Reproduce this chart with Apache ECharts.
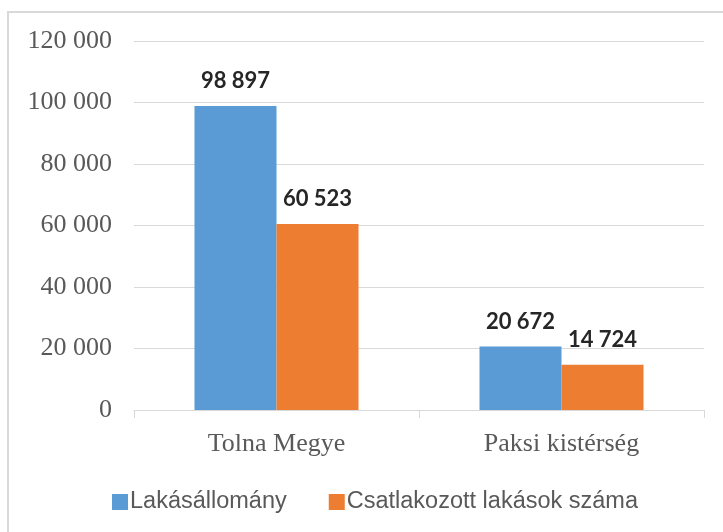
<!DOCTYPE html>
<html>
<head>
<meta charset="utf-8">
<script src="https://cdn.jsdelivr.net/npm/echarts@6/dist/echarts.min.js"></script>
<style>
html,body{margin:0;padding:0;background:#fff;}
#chart{width:723px;height:532px;}
</style>
</head>
<body>
<div id="chart"></div>
<script>
var categories = ['Tolna Megye', 'Paksi kistérség'];
var seriesNames = ['Lakásállomány', 'Csatlakozott lakások száma'];
var lakasallomany = [98897, 20672];
var csatlakozott = [60523, 14724];
var yMin = 0, yMax = 120000, yStep = 20000;

function fmt(v) {
  return String(v).replace(/\B(?=(\d{3})+(?!\d))/g, ' ');
}

var chart = echarts.init(document.getElementById('chart'), null, {renderer: 'canvas'});
var labelStyle = {
  show: true,
  position: 'top',
  distance: 14,
  fontFamily: 'Lato',
  fontWeight: 'bold',
  fontSize: 22,
  color: '#262626',
  formatter: function (p) { return fmt(p.value); }
};
chart.setOption({
  animation: false,
  backgroundColor: '#ffffff',
  graphic: [{
    type: 'rect',
    shape: {x: 8, y: 12, width: 730, height: 540},
    style: {fill: 'none', stroke: '#d9d9d9', lineWidth: 2},
    silent: true
  }],
  grid: {left: 134, right: 19, top: 41, bottom: 122, containLabel: false},
  legend: {
    left: 107,
    top: 485,
    itemWidth: 16,
    itemHeight: 16,
    itemGap: 42,
    icon: 'rect',
    textStyle: {fontFamily: 'Liberation Sans', fontSize: 23.5, color: '#595959', padding: [0, 0, 0, -3]},
    data: seriesNames
  },
  xAxis: {
    type: 'category',
    data: categories,
    axisLine: {lineStyle: {color: '#d9d9d9', width: 1}},
    axisTick: {show: true, length: 8, lineStyle: {color: '#d9d9d9'}},
    axisLabel: {fontFamily: 'Liberation Serif', fontSize: 26, color: '#595959', margin: 21}
  },
  yAxis: {
    type: 'value',
    min: yMin,
    max: yMax,
    interval: yStep,
    axisLine: {show: false},
    axisTick: {show: false},
    splitLine: {lineStyle: {color: '#d9d9d9', width: 1}},
    axisLabel: {
      fontFamily: 'Liberation Serif', fontSize: 26, color: '#595959', margin: 22,
      formatter: function (v) { return fmt(v); }
    }
  },
  series: [{
    name: seriesNames[0],
    type: 'bar',
    data: lakasallomany,
    barWidth: 82,
    barGap: '0%',
    itemStyle: {color: '#5b9bd5'},
    label: labelStyle
  }, {
    name: seriesNames[1],
    type: 'bar',
    data: csatlakozott,
    barWidth: 82,
    barGap: '0%',
    itemStyle: {color: '#ed7d31'},
    label: labelStyle
  }]
});
</script>
</body>
</html>
